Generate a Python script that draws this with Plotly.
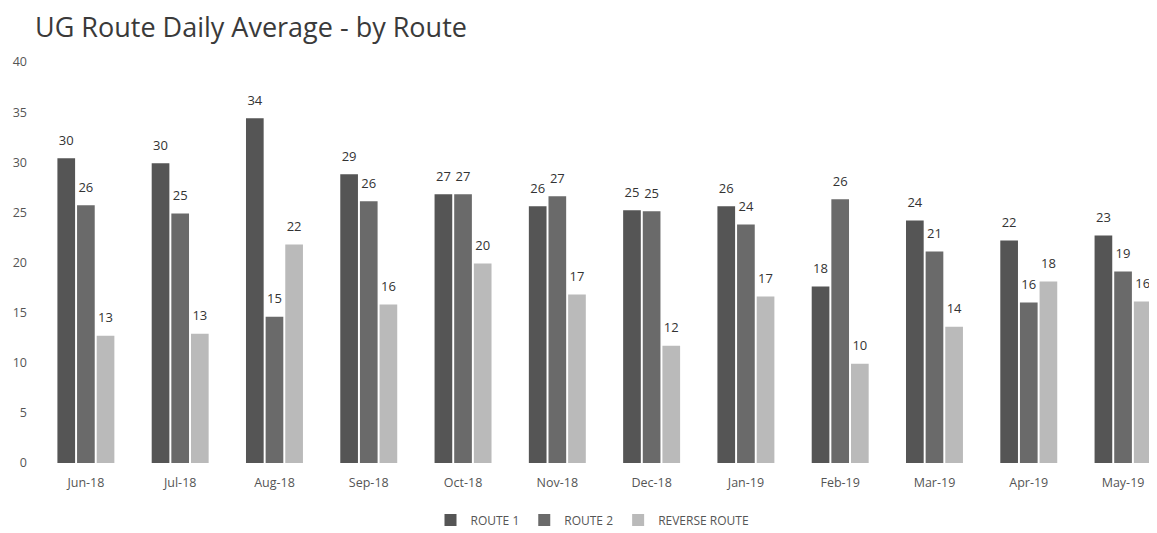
import plotly.graph_objects as go

months = ["Jun-18", "Jul-18", "Aug-18", "Sep-18", "Oct-18", "Nov-18",
          "Dec-18", "Jan-19", "Feb-19", "Mar-19", "Apr-19", "May-19"]
route1 = [30.4, 29.9, 34.4, 28.8, 26.8, 25.6, 25.2, 25.6, 17.6, 24.2, 22.2, 22.7]
route2 = [25.7, 24.9, 14.6, 26.1, 26.8, 26.6, 25.1, 23.8, 26.3, 21.1, 16.0, 19.1]
reverse = [12.7, 12.9, 21.8, 15.8, 19.9, 16.8, 11.7, 16.6, 9.9, 13.6, 18.1, 16.1]

series = [("ROUTE 1", route1, "#555555"),
          ("ROUTE 2", route2, "#6a6a6a"),
          ("REVERSE ROUTE", reverse, "#bababa")]

GAP = 0.375

fig = go.Figure()
for i, (name, vals, col) in enumerate(series):
    fig.add_trace(go.Bar(
        x=months, y=vals, name=name, offsetgroup=str(i),
        marker=dict(color=col, line=dict(width=0)),
    ))
# value labels: grouped text scatter aligned with the bars
for i, (name, vals, col) in enumerate(series):
    fig.add_trace(go.Scatter(
        x=months, y=vals, name=name, offsetgroup=str(i), showlegend=False,
        mode="markers+text",
        marker=dict(size=15, color="rgba(0,0,0,0)"),
        texttemplate="%{y:.0f}", textposition="top center",
        textfont=dict(family="Open Sans", size=13, color="#333333"),
        cliponaxis=False, hoverinfo="skip",
    ))

# page body has an 8px margin, so the figure is 8px smaller than the window
fig.update_layout(
    width=1149, height=525,
    barmode="group", bargap=GAP, bargroupgap=0.1,
    scattermode="group", scattergap=GAP,
    plot_bgcolor="white", paper_bgcolor="white",
    margin=dict(l=20, r=0, t=54, b=70, autoexpand=False),
    title=dict(text="UG Route Daily Average - by Route",
               font=dict(family="Open Sans", size=27, color="#3a3a3a"),
               x=27 / 1149, xanchor="left", xref="container",
               y=1 - 20 / 525, yanchor="middle", yref="container"),
    font=dict(family="Open Sans", size=12, color="#555555"),
    xaxis=dict(range=[-0.614, 11.36], showgrid=False, showline=False,
               ticks="", automargin=False, ticklabelstandoff=10,
               tickfont=dict(size=12.5, color="#555555")),
    yaxis=dict(range=[0, 40], dtick=5, showgrid=False, showline=False,
               zeroline=False, ticks="", automargin=False,
               tickfont=dict(size=12.5, color="#555555")),
    legend=dict(orientation="h", x=0.5, xanchor="center", y=-0.142, yanchor="middle",
                font=dict(size=12, color="#555555"), itemwidth=30),
)

fig.write_html("out.html")
